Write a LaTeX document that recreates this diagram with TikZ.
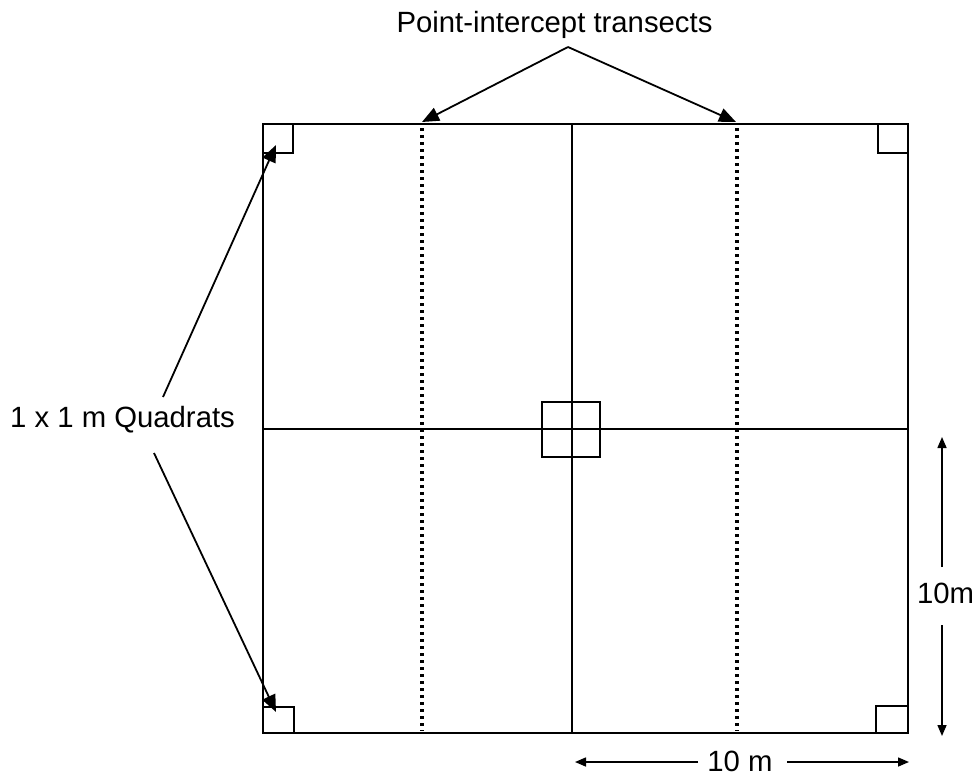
\documentclass[tikz,border=0pt]{standalone}
\usepackage{fontspec}
\setmainfont{Liberation Sans}
\usetikzlibrary{arrows.meta}
\begin{document}
\begin{tikzpicture}[x=1pt,y=-1pt,
  frame/.style={line width=2.3pt,line join=miter},
  transect/.style={line width=3.2pt,dash pattern=on 3pt off 4pt},
  pointer/.style={line width=1.8pt,-{Triangle[length=17pt,width=14pt]}},
  dimline/.style={line width=1.5pt,-{Triangle[length=11pt,width=9pt]}},
  label/.style={font=\fontsize{29.3}{31}\selectfont,inner sep=0pt,anchor=base}]
\useasboundingbox (0,0) rectangle (977,774);

% plot corners and centre
\coordinate (tl) at (263,124);
\coordinate (br) at (908,733);
\coordinate (c) at (572,429);

% point-intercept transects (dotted)
\draw[transect] (422,128) -- (422,731);
\draw[transect] (737,128) -- (737,731);

% outer plot boundary and centre cross
\draw[frame] (tl) rectangle (br);
\draw[frame] (572,124) -- (572,733);
\draw[frame] (263,429) -- (908,429);

% 1 x 1 m quadrats
\draw[frame] (263,124) rectangle (293,153);
\draw[frame] (878,124) rectangle (908,153);
\draw[frame] (263,707) rectangle (294,733);
\draw[frame] (876,706) rectangle (908,733);
\draw[frame] (542,402) rectangle (600,457);

% labels
\node[label] (pit) at (554.5,32) {Point-intercept transects};
\node[label] (quad) at (122.5,427) {1 x 1 m Quadrats};
\node[label] (tenh) at (740,771) {10 m};
\node[label] (tenv) at (945.5,603) {10m};

% pointers
\coordinate (pA) at (568,47);
\coordinate (qA) at (163,397);
\coordinate (qB) at (154,453);
\coordinate (tA) at (422,122);
\coordinate (tB) at (736,122);
\coordinate (qtl) at (276,145);
\coordinate (qbl) at (276,712);
\draw[pointer] (pA) -- (tA);
\draw[pointer] (pA) -- (tB);
\draw[pointer] (qA) -- (qtl);
\draw[pointer] (qB) -- (qbl);

% dimension arrows
\coordinate (hL) at (575,762);
\coordinate (hR) at (909,762);
\coordinate (vT) at (942,437);
\coordinate (vB) at (942,736);
\draw[dimline] (698,762) -- (hL);
\draw[dimline] (787,762) -- (hR);
\draw[dimline] (942,567) -- (vT);
\draw[dimline] (942,625) -- (vB);
\end{tikzpicture}
\end{document}
